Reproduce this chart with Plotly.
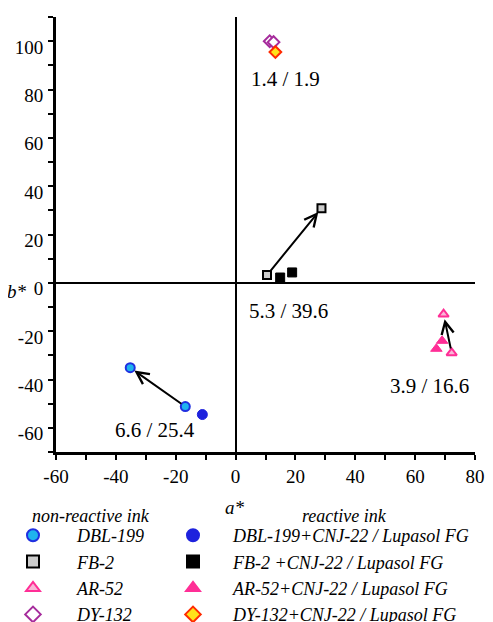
import plotly.graph_objects as go

# ---------------- data (CIELab a*, b*) ----------------
a_dbl = [-35.2, -16.8]
b_dbl = [-35.1, -51.2]
a_dbl_r = [-11.1]
b_dbl_r = [-54.5]

a_fb = [10.5, 28.7]
b_fb = [3.2, 30.9]
a_fb_r = [14.9, 18.9]
b_fb_r = [2.2, 4.3]

a_ar = [69.5, 72.2]
b_ar = [-13.0, -29.0]
a_ar_r = [69.0, 67.1]
b_ar_r = [-24.0, -27.3]

a_dy = [11.4, 12.7]
b_dy = [100.0, 99.6]
a_dy_r = [13.3]
b_dy_r = [95.5]

delta_labels = ["1.4 / 1.9", "5.3 / 39.6", "3.9 / 16.6", "6.6 / 25.4"]
delta_a = [16.8, 17.8, 64.8, -27.0]
delta_b = [84.3, -11.6, -42.6, -61.0]

x_ticks = [-60, -40, -20, 0, 20, 40, 60, 80]
x_ticklabels = ["-60", "-40", "-20", "0", "20", "40", "60", "80"]
y_ticks = [-60, -40, -20, 0, 20, 40, 60, 80, 100]
y_ticklabels = ["-60", "-40", "-20", "0", "20", "40", "60", "80", "100"]

names_nonreactive = ["DBL-199", "FB-2", "AR-52", "DY-132"]
names_reactive = ["DBL-199+CNJ-22 / Lupasol FG", "FB-2 +CNJ-22 / Lupasol FG",
                  "AR-52+CNJ-22 / Lupasol FG", "DY-132+CNJ-22 / Lupasol FG"]

FONT = "Liberation Serif, Times New Roman, Times, serif"

# The page body has an 8px margin, so the figure starts at (8, 8) in the window.
OFF = 8
W, H = 493 - OFF, 622 - OFF
# desired plot area in window pixels: x 56..475, y 17..452
L, T = 56 - OFF, 17 - OFF
R = 493 - 475
B = H - (452 - OFF)
PW, PH = W - L - R, H - T - B


def px_x(px):
    return (px - OFF - L) / PW


def px_y(py):
    return (H - B - (py - OFF)) / PH


fig = go.Figure()

# non-reactive
fig.add_trace(go.Scatter(x=a_dbl, y=b_dbl, mode="markers", name=names_nonreactive[0], legend="legend",
                         marker=dict(symbol="circle", size=9, color="#1FB3EE",
                                     line=dict(color="#1F2FE0", width=2))))
fig.add_trace(go.Scatter(x=a_fb, y=b_fb, mode="markers", name=names_nonreactive[1], legend="legend",
                         marker=dict(symbol="square", size=8, color="#CCCCCC",
                                     line=dict(color="#000000", width=2))))
fig.add_trace(go.Scatter(x=a_ar, y=b_ar, mode="markers", name=names_nonreactive[2], legend="legend",
                         marker=dict(symbol="triangle-up", size=9, color="#F9B5D6",
                                     line=dict(color="#FF2E96", width=2))))
fig.add_trace(go.Scatter(x=a_dy, y=b_dy, mode="markers", name=names_nonreactive[3], legend="legend",
                         marker=dict(symbol="diamond", size=9, color="#FFFFFF",
                                     line=dict(color="#A62C9C", width=2))))
# reactive
fig.add_trace(go.Scatter(x=a_dbl_r, y=b_dbl_r, mode="markers", name=names_reactive[0], legend="legend2",
                         marker=dict(symbol="circle", size=10, color="#1E22DD",
                                     line=dict(color="#1E22DD", width=1))))
fig.add_trace(go.Scatter(x=a_fb_r, y=b_fb_r, mode="markers", name=names_reactive[1], legend="legend2",
                         marker=dict(symbol="square", size=9, color="#000000",
                                     line=dict(color="#000000", width=1))))
fig.add_trace(go.Scatter(x=a_ar_r, y=b_ar_r, mode="markers", name=names_reactive[2], legend="legend2",
                         marker=dict(symbol="triangle-up", size=10, color="#FF2E96",
                                     line=dict(color="#FF2E96", width=1))))
fig.add_trace(go.Scatter(x=a_dy_r, y=b_dy_r, mode="markers", name=names_reactive[3], legend="legend2",
                         marker=dict(symbol="diamond", size=9, color="#FFE21A",
                                     line=dict(color="#FF2A00", width=2))))

annotations = []
# arrows between the two non-reactive measurements
for (ax_, ay_, hx, hy) in [
    (a_dbl[1], b_dbl[1], a_dbl[0], b_dbl[0]),
    (a_fb[0], b_fb[0], a_fb[1], b_fb[1]),
    (a_ar[1], b_ar[1], a_ar[0], b_ar[0]),
]:
    annotations.append(dict(x=hx, y=hy, ax=ax_, ay=ay_, xref="x", yref="y", axref="x", ayref="y",
                            text="", showarrow=True, arrowhead=5, arrowsize=1.2, arrowwidth=2,
                            arrowcolor="#000000", standoff=5, startstandoff=3))
for t, xa, yb in zip(delta_labels, delta_a, delta_b):
    annotations.append(dict(x=xa, y=yb, xref="x", yref="y", text=t, showarrow=False,
                            xanchor="center", yanchor="middle",
                            font=dict(family=FONT, size=21, color="#000000")))

text_items = [("b*", 17, 291, 19), ("a*", 235, 507, 19),
              ("non-reactive ink", 91, 516, 18), ("reactive ink", 344, 516, 18)]
for t, px, py, fs in text_items:
    annotations.append(dict(x=px_x(px), y=px_y(py), xref="paper", yref="paper", text=t,
                            showarrow=False, xanchor="center", yanchor="middle",
                            font=dict(family=FONT, size=fs, style="italic", color="#000")))

axis_common = dict(showgrid=False, showline=True, linecolor="#000000", linewidth=3,
                   ticks="outside", ticklen=5, tickwidth=2, tickcolor="#000000",
                   zeroline=True, zerolinecolor="#000000", zerolinewidth=1.5,
                   tickfont=dict(family=FONT, size=19, color="#000000"), mirror=False)

fig.update_layout(
    width=W, height=H,
    margin=dict(l=L, r=R, t=T, b=B, autoexpand=False),
    paper_bgcolor="#FFFFFF", plot_bgcolor="#FFFFFF",
    xaxis=dict(range=[-60, 80], tickmode="array", tickvals=x_ticks, ticktext=x_ticklabels,
               minor=dict(dtick=10, tick0=0, ticks="outside", ticklen=5, tickwidth=2, tickcolor="#000000"),
               ticklabelstandoff=0, **axis_common),
    yaxis=dict(range=[-70, 110], tickmode="array", tickvals=y_ticks, ticktext=y_ticklabels,
               minor=dict(dtick=10, tick0=0, ticks="outside", ticklen=5, tickwidth=2, tickcolor="#000000"),
               ticklabelshift=6, ticklabelstandoff=1, **axis_common),
    annotations=annotations,
    legend=dict(x=px_x(-11), y=px_y(517), xanchor="left", yanchor="top", bgcolor="rgba(0,0,0,0)",
                font=dict(family=FONT, size=18, style="italic", color="#000"), itemwidth=78,
                tracegroupgap=0, itemsizing="constant"),
    legend2=dict(x=px_x(153), y=px_y(517), xanchor="left", yanchor="top", bgcolor="rgba(0,0,0,0)",
                 font=dict(family=FONT, size=18, style="italic", color="#000"), itemwidth=70,
                 tracegroupgap=0, itemsizing="constant"),
)

fig.write_html("out.html")
